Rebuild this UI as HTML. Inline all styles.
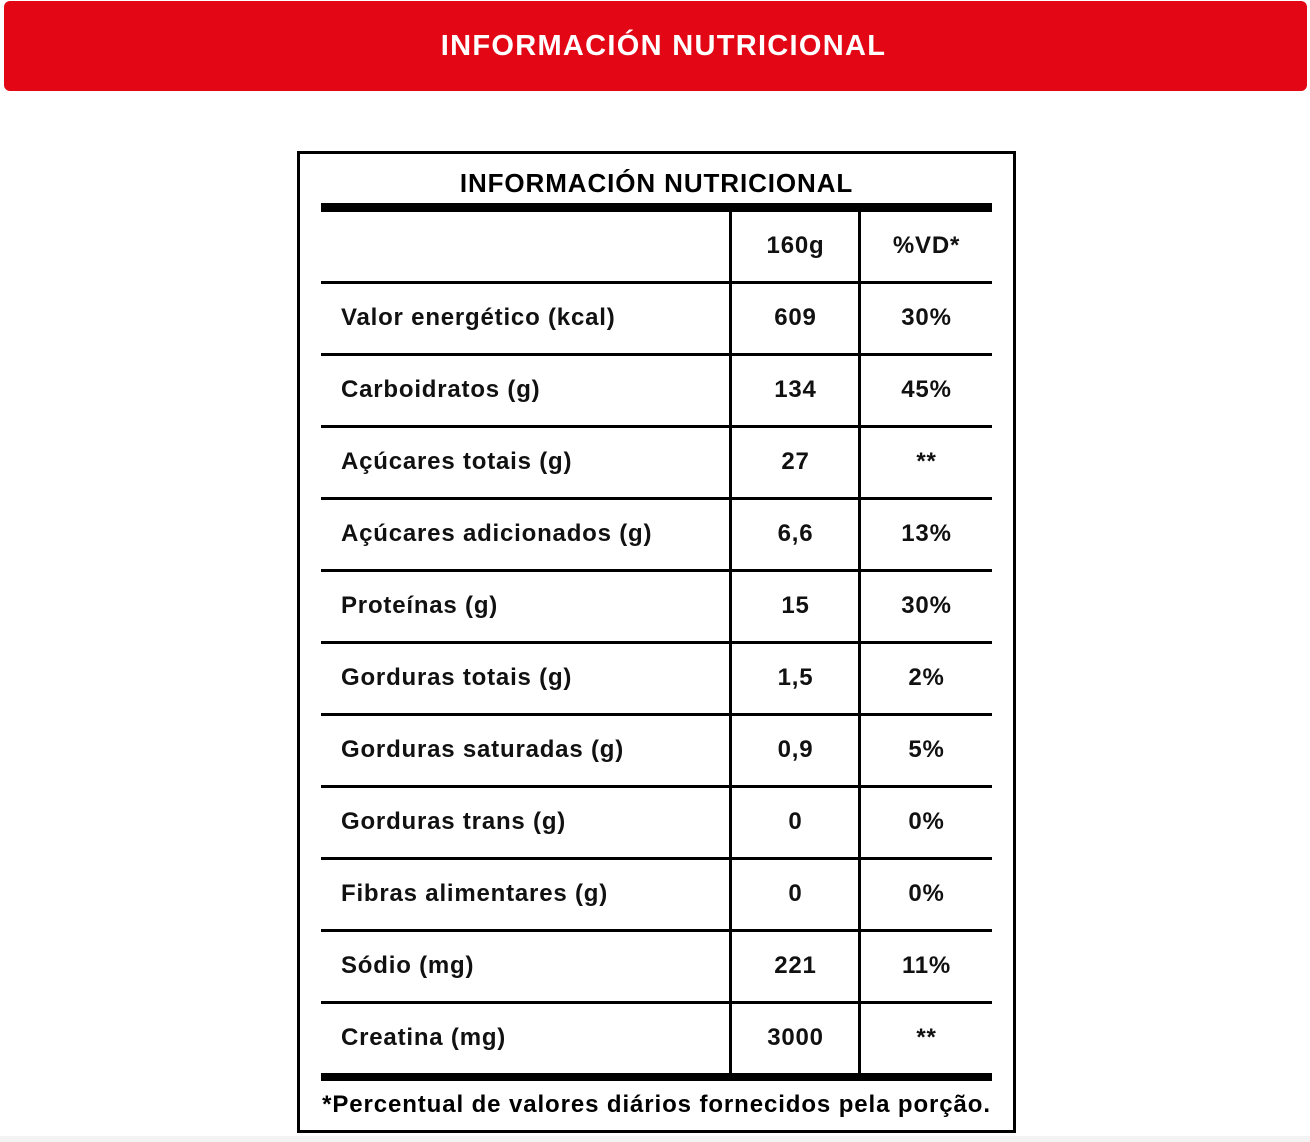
<!DOCTYPE html>
<html><head><meta charset="utf-8"><style>
body{margin:0;width:1310px;height:1142px;background:#fff;position:relative;overflow:hidden;font-family:"Liberation Sans",Arial,sans-serif;}
.hdr{position:absolute;left:4px;top:1px;width:1303px;height:90px;background:#e30615;border-radius:6px;}
.hdr div{position:absolute;left:16px;right:0;top:28px;text-align:center;color:#fff;font-weight:bold;font-size:29px;letter-spacing:1.3px;line-height:34px;}
.box{position:absolute;left:297px;top:151px;width:713px;height:976px;border:3px solid #000;}
.ttl{position:absolute;left:297px;width:719px;top:166px;text-align:center;font-weight:bold;font-size:26px;letter-spacing:0.9px;line-height:34px;}
.h{position:absolute;background:#000;left:321px;width:671px;}
.v{position:absolute;background:#000;top:212px;height:861px;width:3px;}
.t{position:absolute;font-weight:bold;font-size:24px;letter-spacing:0.8px;line-height:30px;color:#111;}
.c1{left:341px;}
.c2{left:733px;width:125px;text-align:center;}
.c3{left:861px;width:131px;text-align:center;}
.foot{position:absolute;left:297px;width:719px;top:1090px;text-align:center;font-weight:bold;font-size:24px;letter-spacing:0.9px;line-height:30px;}
.bot{position:absolute;left:0;top:1136px;width:1310px;height:6px;background:#f3f3f3;}
</style></head><body>
<div class="hdr"><div>INFORMACIÓN NUTRICIONAL</div></div>
<div class="box"></div>
<div class="ttl">INFORMACIÓN NUTRICIONAL</div>
<div class="h" style="top:203px;height:9px"></div>
<div class="h" style="top:281px;height:3px"></div>
<div class="h" style="top:353px;height:3px"></div>
<div class="h" style="top:425px;height:3px"></div>
<div class="h" style="top:497px;height:3px"></div>
<div class="h" style="top:569px;height:3px"></div>
<div class="h" style="top:641px;height:3px"></div>
<div class="h" style="top:713px;height:3px"></div>
<div class="h" style="top:785px;height:3px"></div>
<div class="h" style="top:857px;height:3px"></div>
<div class="h" style="top:929px;height:3px"></div>
<div class="h" style="top:1001px;height:3px"></div>
<div class="h" style="top:1073px;height:8px"></div>
<div class="v" style="left:729px"></div>
<div class="v" style="left:858px"></div>

<div class="t c2" style="top:231px">160g</div><div class="t c3" style="top:231px">%VD*</div>

<div class="t c1" style="top:303px">Valor energético (kcal)</div><div class="t c2" style="top:303px">609</div><div class="t c3" style="top:303px">30%</div>
<div class="t c1" style="top:375px">Carboidratos (g)</div><div class="t c2" style="top:375px">134</div><div class="t c3" style="top:375px">45%</div>
<div class="t c1" style="top:447px">Açúcares totais (g)</div><div class="t c2" style="top:447px">27</div><div class="t c3" style="top:447px">**</div>
<div class="t c1" style="top:519px">Açúcares adicionados (g)</div><div class="t c2" style="top:519px">6,6</div><div class="t c3" style="top:519px">13%</div>
<div class="t c1" style="top:591px">Proteínas (g)</div><div class="t c2" style="top:591px">15</div><div class="t c3" style="top:591px">30%</div>
<div class="t c1" style="top:663px">Gorduras totais (g)</div><div class="t c2" style="top:663px">1,5</div><div class="t c3" style="top:663px">2%</div>
<div class="t c1" style="top:735px">Gorduras saturadas (g)</div><div class="t c2" style="top:735px">0,9</div><div class="t c3" style="top:735px">5%</div>
<div class="t c1" style="top:807px">Gorduras trans (g)</div><div class="t c2" style="top:807px">0</div><div class="t c3" style="top:807px">0%</div>
<div class="t c1" style="top:879px">Fibras alimentares (g)</div><div class="t c2" style="top:879px">0</div><div class="t c3" style="top:879px">0%</div>
<div class="t c1" style="top:951px">Sódio (mg)</div><div class="t c2" style="top:951px">221</div><div class="t c3" style="top:951px">11%</div>
<div class="t c1" style="top:1023px">Creatina (mg)</div><div class="t c2" style="top:1023px">3000</div><div class="t c3" style="top:1023px">**</div>

<div class="foot">*Percentual de valores diários fornecidos pela porção.</div>
<div class="bot"></div>
</body></html>
